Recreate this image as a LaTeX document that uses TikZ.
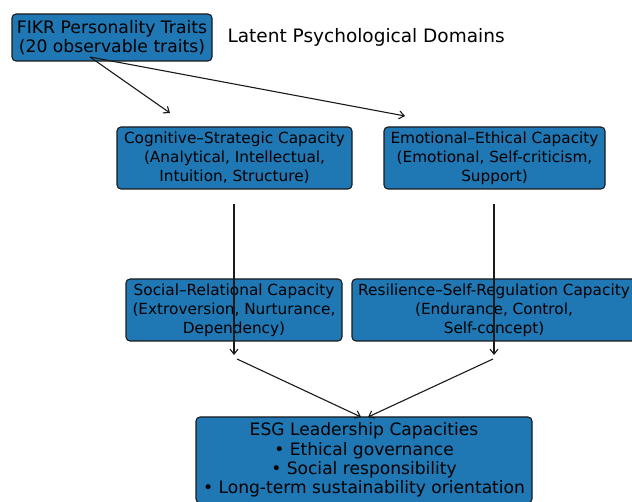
\documentclass[tikz,border=0pt]{standalone}
\usepackage{fontspec}
\setmainfont{DejaVu Sans}
\usetikzlibrary{arrows.meta}
\definecolor{mblue}{HTML}{1F77B4}
\definecolor{edge}{HTML}{1A1A1A}
\tikzset{
  box/.style={draw=edge, line width=1.1pt, fill=mblue, rounded corners=4pt, align=center,
    inner sep=0pt, font=\fontsize{15.3}{19}\selectfont, text=black},
  conn/.style={draw=edge, line width=1.1pt, -{Straight Barb[length=5pt,width=8pt]}},
}
\begin{document}
\begin{tikzpicture}[x=1pt,y=-1pt]
\useasboundingbox (0,0) rectangle (632,502);
\node[box, minimum width=200pt, minimum height=47pt, font=\fontsize{17.2}{19.5}\selectfont] (fikr) at (112,37.5) {FIKR Personality Traits\\(20 observable traits)};
\node[font=\fontsize{18.5}{20}\selectfont, anchor=west] (title) at (224,37) {Latent Psychological Domains};
\node[box, minimum width=235pt, minimum height=62pt] (cog) at (234.5,158) {Cognitive–Strategic Capacity\\(Analytical, Intellectual,\\Intuition, Structure)};
\node[box, minimum width=221pt, minimum height=62pt] (emo) at (494.5,158) {Emotional–Ethical Capacity\\(Emotional, Self-criticism,\\Support)};
\node[box, minimum width=216pt, minimum height=62pt] (soc) at (234,310) {Social–Relational Capacity\\(Extroversion, Nurturance,\\Dependency)};
\node[box, minimum width=284pt, minimum height=62pt] (res) at (494,310) {Resilience–Self-Regulation Capacity\\(Endurance, Control,\\Self-concept)};
\node[box, minimum width=336pt, minimum height=86pt, font=\fontsize{17.1}{19.4}\selectfont] (esg) at (364,460) {ESG Leadership Capacities\\• Ethical governance\\• Social responsibility\\• Long-term sustainability orientation};
\coordinate (s0) at (90,57);
\coordinate (t1) at (170,113);
\coordinate (t2) at (405,116);
\coordinate (v1a) at (234,204);
\coordinate (v1b) at (234,355);
\coordinate (v2a) at (494,204);
\coordinate (v2b) at (494,355);
\coordinate (d1a) at (237,359);
\coordinate (d1b) at (361,417);
\coordinate (d2a) at (493,359);
\coordinate (d2b) at (368,417);
\draw[conn] (s0) -- (t1);
\draw[conn] (s0) -- (t2);
\draw[conn] (v1a) -- (v1b);
\draw[conn] (v2a) -- (v2b);
\draw[conn] (d1a) -- (d1b);
\draw[conn] (d2a) -- (d2b);
\end{tikzpicture}
\end{document}
